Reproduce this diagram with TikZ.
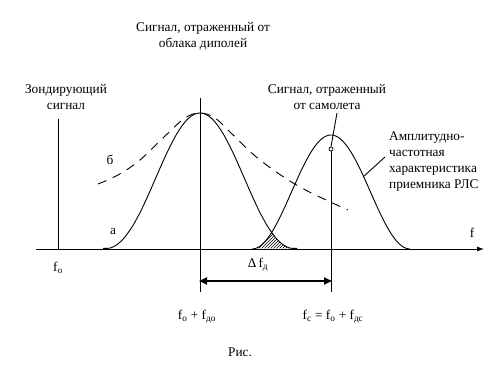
\documentclass[tikz,border=0pt]{standalone}
\usepackage{fontspec}
\setmainfont{Liberation Serif}
\usetikzlibrary{arrows.meta,patterns}
\begin{document}
\begin{tikzpicture}[x=1pt,y=-1pt,
  lbl/.style={font=\fontsize{13.3}{16}\selectfont, inner sep=0pt, align=center},
  lbll/.style={font=\fontsize{13.3}{16}\selectfont, inner sep=0pt, align=left, anchor=north west},
  curve/.style={line width=0.9pt},
  thin line/.style={line width=0.9pt},
  declare function={cl(\t)=249-136*pow(max((1+cos((\t-200)/97*180))/2,0.01),1.15);
                    rd(\t)=249-114*(1+cos((\t-331)/79*180))/2;}]
\useasboundingbox (0,0) rectangle (496,372);
% coordinates
\coordinate (axL) at (36,249);
\coordinate (axR) at (484,249);
\coordinate (f0T) at (58,119);
\coordinate (f0B) at (58,249);
\coordinate (v1T) at (200,98);
\coordinate (v1B) at (200,292);
\coordinate (v2B) at (331,292);
\coordinate (a1) at (200,281);
\coordinate (a2) at (331,281);
\coordinate (ldT) at (337,113);
\coordinate (lr1) at (385,157);
\coordinate (lr2) at (363,177);
% axis
\draw[thin line,-{Latex[length=7pt,width=5pt]}] (axL) -- (axR);
\draw[thin line] (f0T) -- (f0B);
% hatch region
\begin{scope}
\clip plot[domain=103:297,samples=60] (\x,{cl(\x)}) -- cycle;
\fill[pattern=north east lines] plot[domain=252:410,samples=60] (\x,{rd(\x)}) -- cycle;
\end{scope}
% curve a (dipole cloud)
\draw[curve] plot[domain=103:297,samples=80,smooth] (\x,{cl(\x)});
% radar response
\draw[curve] plot[domain=252:410,samples=80,smooth] (\x,{rd(\x)});
% dashed curve б
\draw[curve,dash pattern=on 9pt off 7pt] plot[smooth,tension=0.6] coordinates {(98,184) (118,175) (140,160) (165,136) (185,118) (200,113) (215,118) (230,132) (260,160) (300,187) (348,210)};
% verticals
\draw[thin line] (v1T) -- (v1B);
\node[circle,draw,inner sep=0pt,minimum size=4pt,line width=0.7pt] (mk) at (331,149) {};
\draw[thin line] (mk.south) -- (v2B);
\draw[thin line] (ldT) -- (mk.north);
\draw[thin line] (lr1) -- (lr2);
% double arrow
\draw[line width=2.2pt,{Triangle[length=8pt,width=7pt]}-{Triangle[length=8pt,width=7pt]},shorten <=-1pt,shorten >=-1pt] (a1) -- (a2);
% labels
\node[lbl] (t1) at (203,36) {Сигнал, отраженный от\\облака диполей};
\node[lbl] (t2) at (66,97) {Зондирующий\\сигнал};
\node[lbl] (t3) at (327,97) {Сигнал, отраженный\\от самолета};
\node[lbll] (t4) at (389,132) {Амплитудно-\\частотная\\характеристика\\приемника РЛС};
\node[lbl] (lb) at (110,160) {б};
\node[lbl] (la) at (113,231) {а};
\node[lbl] (lf) at (472,233) {f};
\node[lbl] (lf0) at (58,268) {f\textsubscript{о}};
\node[lbl] (ldf) at (258,265) {Δ\,f\textsubscript{д}};
\node[lbl] (lf1) at (197,317) {f\textsubscript{о} + f\textsubscript{до}};
\node[lbl] (lf2) at (333,317) {f\textsubscript{с} = f\textsubscript{о} + f\textsubscript{дс}};
\node[lbl] (ris) at (240,352) {Рис.};
\end{tikzpicture}
\end{document}
